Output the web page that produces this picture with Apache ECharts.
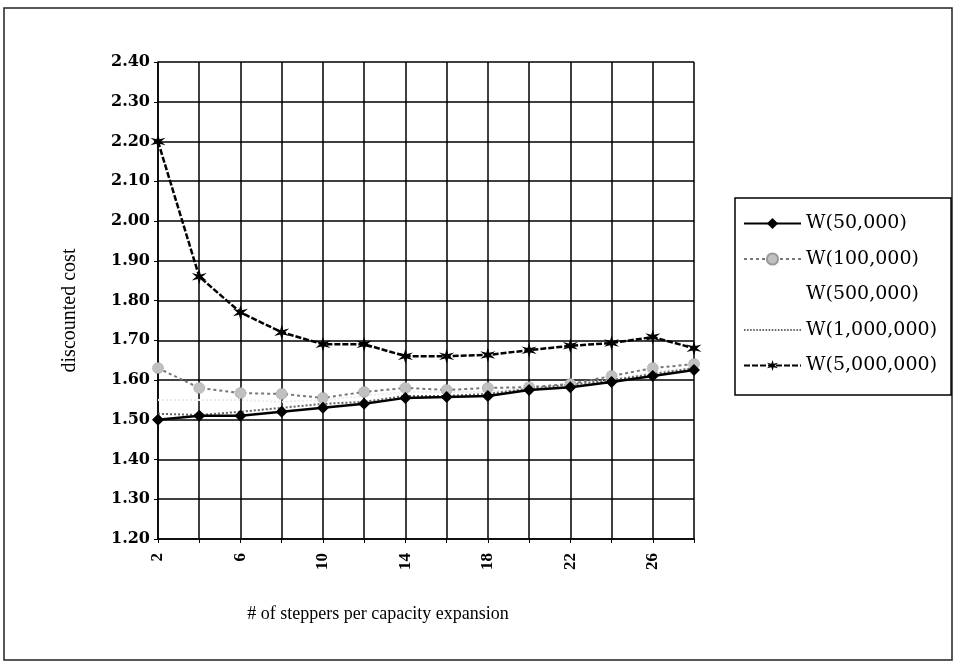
<!DOCTYPE html>
<html>
<head>
<meta charset="utf-8">
<script src="https://cdn.jsdelivr.net/npm/echarts@6/dist/echarts.min.js"></script>
<style>
  html, body { margin: 0; padding: 0; background: #fff; }
  #main { width: 957px; height: 668px; }
</style>
</head>
<body>
<div id="main"></div>
<script>
// steppers per capacity expansion
const steppers = ['2', '4', '6', '8', '10', '12', '14', '16', '18', '20', '22', '24', '26', '28'];

// discounted cost
const w50k = [1.50, 1.51, 1.51, 1.52, 1.53, 1.54, 1.555, 1.557, 1.56, 1.575, 1.582, 1.595, 1.61, 1.625];
const w100k = [1.63, 1.58, 1.567, 1.565, 1.555, 1.57, 1.58, 1.575, 1.58, 1.582, 1.59, 1.61, 1.63, 1.64];
const w500k = [1.55, 1.55, 1.55, 1.545, 1.55, 1.56, 1.57, 1.57, 1.57, 1.58, 1.59, 1.60, 1.62, 1.63];
const w1m = [1.515, 1.512, 1.52, 1.53, 1.54, 1.545, 1.56, 1.56, 1.565, 1.578, 1.588, 1.60, 1.615, 1.63];
const w5m = [2.20, 1.86, 1.77, 1.72, 1.69, 1.69, 1.66, 1.66, 1.663, 1.675, 1.686, 1.693, 1.708, 1.68];

const seriesNames = ['W(50,000)', 'W(100,000)', 'W(500,000)', 'W(1,000,000)', 'W(5,000,000)'];

// asterisk-like marker shape
function starPath() {
  let d = '';
  for (let i = 0; i < 12; i++) {
    const a = Math.PI / 6 * i;
    const r = i % 2 === 0 ? 10 : 3.5;
    d += (i === 0 ? 'M' : 'L') + (r * Math.sin(a)).toFixed(2) + ',' + (-r * Math.cos(a)).toFixed(2);
  }
  return 'path://' + d + 'Z';
}

// a row of dots, used as legend icon for the dotted series
function dotsPath() {
  let d = '';
  for (let x = 0; x < 56; x += 3) d += 'M' + x + ',0h1.5v1.5h-1.5z';
  return 'path://' + d;
}

const serif = 'Liberation Serif';
const chart = echarts.init(document.getElementById('main'));

chart.setOption({
  animation: false,
  backgroundColor: '#fff',
  graphic: [{
    type: 'rect',
    shape: { x: 4, y: 8, width: 948, height: 652 },
    style: { fill: 'none', stroke: '#222', lineWidth: 1.5 }
  }],
  grid: { left: 158, right: 263, top: 62, bottom: 129 },
  legend: {
    orient: 'vertical',
    left: 735,
    top: 198,
    padding: [16, 14, 20, 8],
    itemWidth: 57,
    itemHeight: 14,
    itemGap: 16.5,
    symbolKeepAspect: true,
    borderColor: '#000',
    borderWidth: 1.5,
    textStyle: { fontFamily: 'DejaVu Serif', fontSize: 19, lineHeight: 16, color: '#000' },
    data: [
      { name: seriesNames[0] },
      { name: seriesNames[1] },
      { name: seriesNames[2], icon: 'none' },
      { name: seriesNames[3], icon: dotsPath(), itemStyle: { color: '#333' } },
      { name: seriesNames[4] }
    ]
  },
  xAxis: {
    type: 'category',
    data: steppers,
    boundaryGap: false,
    name: '# of steppers per capacity expansion',
    nameLocation: 'middle',
    nameGap: 66,
    nameTextStyle: { fontFamily: serif, fontSize: 18, color: '#000', padding: [0, 96, 0, 0] },
    axisLine: { lineStyle: { color: '#000', width: 1.5 } },
    axisTick: { show: true, length: 4, interval: 0, lineStyle: { color: '#000' } },
    axisLabel: { interval: 1, rotate: 90, margin: 14, fontFamily: serif, fontSize: 17, fontWeight: 'bold', color: '#000' },
    splitLine: { show: true, interval: 0, lineStyle: { color: '#000', width: 1.5 } }
  },
  yAxis: {
    type: 'value',
    min: 1.2,
    max: 2.4,
    interval: 0.1,
    name: 'discounted cost',
    nameLocation: 'middle',
    nameGap: 78,
    nameTextStyle: { fontFamily: serif, fontSize: 20, color: '#000', padding: [0, 20, 0, 0] },
    axisLine: { show: true, lineStyle: { color: '#000', width: 1.5 } },
    axisTick: { show: true, length: 4, lineStyle: { color: '#000' } },
    axisLabel: {
      margin: 8,
      fontFamily: 'DejaVu Serif', fontSize: 16, fontWeight: 'bold', color: '#000',
      formatter: v => v.toFixed(2)
    },
    splitLine: { show: true, lineStyle: { color: '#000', width: 1.5 } }
  },
  series: [
    {
      name: seriesNames[0], type: 'line', data: w50k, z: 5,
      symbol: 'diamond', symbolSize: 12,
      itemStyle: { color: '#000' },
      lineStyle: { color: '#000', width: 2.5 }
    },
    {
      name: seriesNames[1], type: 'line', data: w100k, z: 4,
      symbol: 'circle', symbolSize: 11,
      itemStyle: { color: '#c0c0c0', borderColor: '#999', borderWidth: 1, borderType: 'dotted' },
      lineStyle: { color: '#777', width: 2, type: [3, 3] }
    },
    {
      name: seriesNames[2], type: 'line', data: w500k, z: 2,
      symbol: 'none',
      itemStyle: { color: '#f4f4f4' },
      lineStyle: { color: '#ececec', width: 2, type: 'dotted' }
    },
    {
      name: seriesNames[3], type: 'line', data: w1m, z: 3,
      symbol: 'none',
      itemStyle: { color: '#777' },
      lineStyle: { color: '#666', width: 2, type: [2, 2] }
    },
    {
      name: seriesNames[4], type: 'line', data: w5m, z: 6,
      symbol: starPath(), symbolSize: 15,
      itemStyle: { color: '#000' },
      lineStyle: { color: '#000', width: 2.5, type: [6, 2] }
    }
  ]
});
</script>
</body>
</html>
